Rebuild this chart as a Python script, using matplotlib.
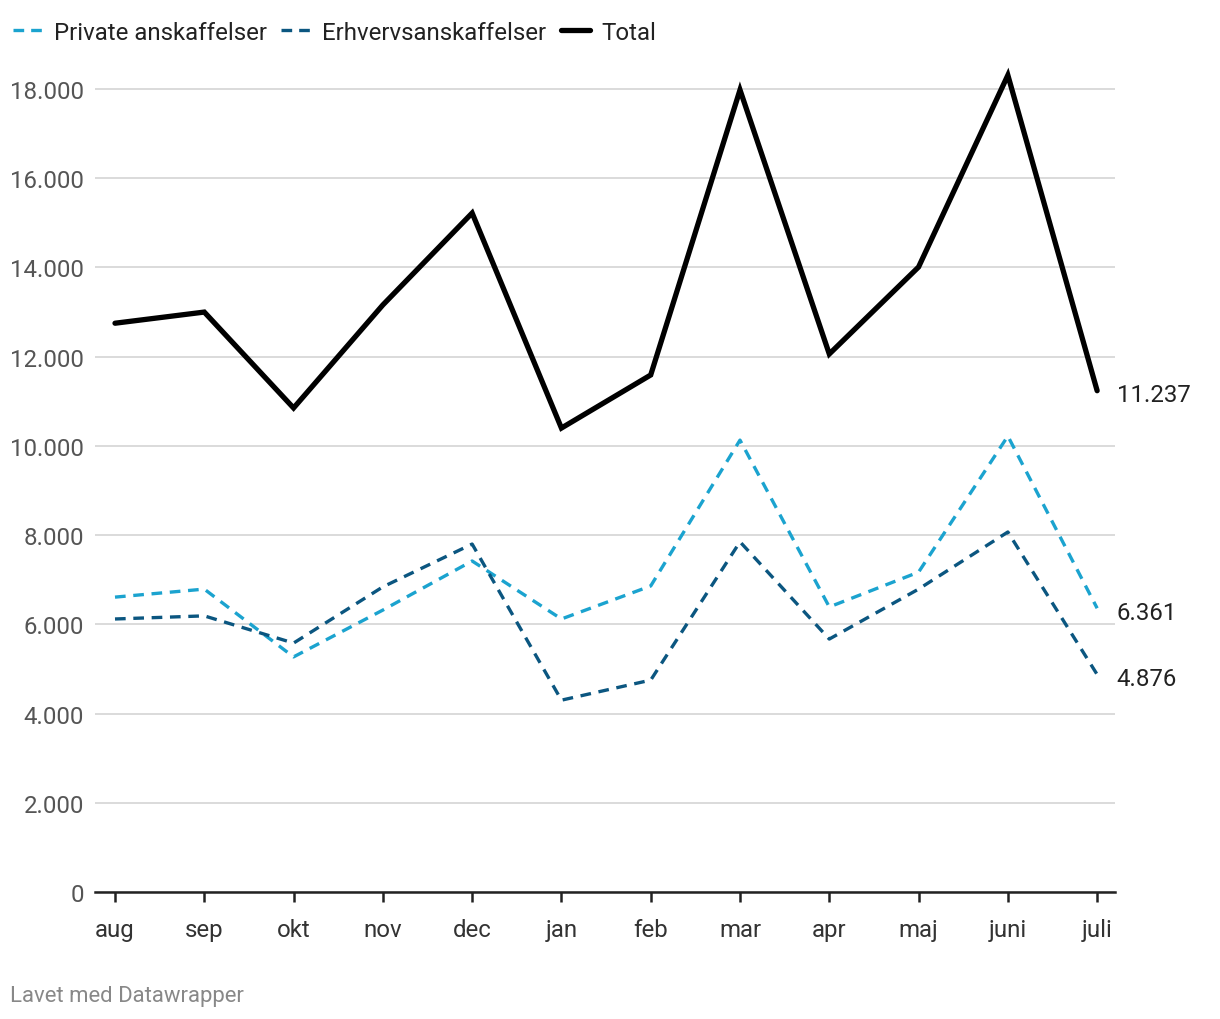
import matplotlib.pyplot as plt
from matplotlib.lines import Line2D
from matplotlib.ticker import FuncFormatter

plt.rcParams['font.family'] = ['Roboto', 'DejaVu Sans']

months = ['aug', 'sep', 'okt', 'nov', 'dec', 'jan', 'feb', 'mar', 'apr', 'maj', 'juni', 'juli']
private = [6610, 6790, 5270, 6320, 7420, 6120, 6860, 10130, 6390, 7170, 10220, 6361]
erhverv = [6120, 6190, 5580, 6840, 7800, 4300, 4750, 7850, 5670, 6790, 8070, 4876]
total = [12750, 13000, 10850, 13160, 15220, 10400, 11590, 17980, 12060, 14010, 18310, 11237]
yticks = [0, 2000, 4000, 6000, 8000, 10000, 12000, 14000, 16000, 18000]

c_private = '#1ba3cf'
c_erhverv = '#0b5680'
fs = 17.3

fig = plt.figure(figsize=(12.2, 10.2), dpi=100)
ax = fig.add_axes([95 / 1220, 1 - 893 / 1020, 1020 / 1220, (893 - 60) / 1020])

x = list(range(len(months)))
ax.plot(x, private, color=c_private, lw=2.4, dashes=(3.2, 2.3), label='Private anskaffelser')
ax.plot(x, erhverv, color=c_erhverv, lw=2.4, dashes=(3.2, 2.3), label='Erhvervsanskaffelser')
ax.plot(x, total, color='black', lw=3.8, label='Total', solid_capstyle='round', solid_joinstyle='miter')

for series in (total, private, erhverv):
    v = series[-1]
    ax.annotate(f'{v:,}'.replace(',', '.'), (x[-1], v), xytext=(14, -3),
                textcoords='offset points', va='center', ha='left', fontsize=fs, color='#222222')

ax.set_xlim(-0.224, 11.2)
ax.set_ylim(0, 18673)
ax.set_yticks(yticks)
ax.yaxis.set_major_formatter(FuncFormatter(lambda v, p: f'{int(v):,}'.replace(',', '.')))
ax.grid(axis='y', color='#d4d4d4', lw=1.2)
ax.set_axisbelow(True)
ax.set_xticks(x)
ax.set_xticklabels(months)

for s in ['top', 'right', 'left']:
    ax.spines[s].set_visible(False)
ax.spines['bottom'].set_color('#222222')
ax.spines['bottom'].set_linewidth(1.8)
ax.tick_params(axis='y', length=0, pad=8, labelsize=fs, labelcolor='#555555')
ax.tick_params(axis='x', length=7, width=1.8, color='#222222', pad=12, labelsize=fs, labelcolor='#333333')

handles = [
    Line2D([], [], color=c_private, lw=2.4, dashes=(3.2, 2.1)),
    Line2D([], [], color=c_erhverv, lw=2.4, dashes=(3.2, 2.1)),
    Line2D([], [], color='black', lw=3.8, solid_capstyle='round'),
]
fig.legend(handles, ['Private anskaffelser', 'Erhvervsanskaffelser', 'Total'],
           loc='center left', bbox_to_anchor=(-0.003, 1 - 33 / 1020), ncol=3, frameon=False,
           fontsize=fs, handlelength=1.2, handletextpad=0.5, columnspacing=0.6,
           labelcolor='#222222', borderaxespad=0.3)

fig.text(10 / 1220, 1 - 997 / 1020, 'Lavet med Datawrapper', fontsize=15.9, color='#888888',
         va='center', ha='left')

fig.savefig('out.png', dpi=100)
